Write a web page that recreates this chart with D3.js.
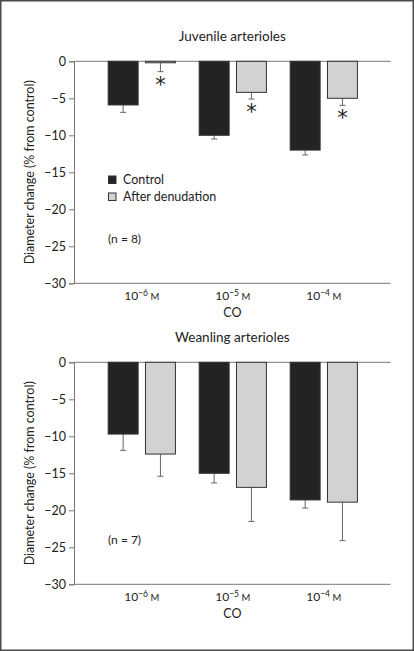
<!DOCTYPE html>
<html><head><meta charset="utf-8">
<script src="https://cdn.jsdelivr.net/npm/d3@7"></script>
<style>
html,body{margin:0;padding:0;background:#fff;}
svg{display:block;font-family:Lato,"Open Sans",sans-serif;}
</style></head>
<body>
<svg id="c" width="414" height="651"></svg>
<script>
const categories = ["1e-6", "1e-5", "1e-4"];
const exponents = ["−6", "−5", "−4"];
const seriesNames = ["Control", "After denudation"];
const yTicks = [0, -5, -10, -15, -20, -25, -30];

const juvenileControl = [-5.9, -10.0, -12.0];
const juvenileControlErr = [1.0, 0.5, 0.65];
const juvenileDenud = [-0.2, -4.2, -5.0];
const juvenileDenudErr = [1.2, 0.9, 0.95];
const juvenileSig = [true, true, true];

const weanlingControl = [-9.7, -15.0, -18.6];
const weanlingControlErr = [2.2, 1.3, 1.1];
const weanlingDenud = [-12.4, -16.9, -18.9];
const weanlingDenudErr = [3.0, 4.6, 5.2];
const weanlingSig = [false, false, false];

const colors = ["#232323", "#d2d2d2"];

const svg = d3.select("#c");
svg.append("rect").attr("x", 0.75).attr("y", 0.75).attr("width", 412.5).attr("height", 649.5)
  .attr("fill", "#fff").attr("stroke", "#4a4a4a").attr("stroke-width", 1.5);

function panel(opts) {
  const {top, title, ctrl, ctrlErr, den, denErr, sig, n, legend} = opts;
  const x0 = 74, x1 = 390.7;
  const y = d3.scaleLinear().domain([0, -30]).range([top, top + 222]);
  const x = d3.scaleBand().domain(categories).range([96.3, 369.3]).paddingInner(0.25).paddingOuter(0.125);
  const xs = d3.scaleBand().domain(seriesNames).range([0, x.bandwidth()]).paddingInner(0.17).paddingOuter(0);
  const g = svg.append("g");

  g.append("text").attr("x", (x0 + x1) / 2).attr("y", top - 20).attr("text-anchor", "middle")
    .attr("font-size", 13.5).attr("fill", "#222").text(title);

  // y axis
  const ya = g.append("g").attr("transform", `translate(${x0},0)`)
    .call(d3.axisLeft(y).tickValues(yTicks).tickSize(5).tickPadding(3)
      .tickFormat(d => d === 0 ? "0" : "−" + Math.abs(d)));
  ya.select(".domain").attr("stroke", "#777");
  ya.selectAll(".tick line").attr("stroke", "#777");
  ya.selectAll(".tick text").attr("font-size", 12.5).attr("fill", "#222").attr("font-family", "Lato,sans-serif");

  // zero line
  g.append("line").attr("x1", x0).attr("x2", x1).attr("y1", y(0)).attr("y2", y(0)).attr("stroke", "#777");
  // bottom line
  g.append("line").attr("x1", x0).attr("x2", x1).attr("y1", y(-30)).attr("y2", y(-30)).attr("stroke", "#777");

  const data = categories.map((c, i) => [
    {cat: c, s: seriesNames[0], v: ctrl[i], e: ctrlErr[i], sig: false, k: 0},
    {cat: c, s: seriesNames[1], v: den[i], e: denErr[i], sig: sig[i], k: 1}
  ]).flat();

  // error bars
  const eb = g.append("g").attr("stroke", "#666").attr("stroke-width", 1);
  data.forEach(d => {
    const cx = x(d.cat) + xs(d.s) + xs.bandwidth() / 2;
    eb.append("line").attr("x1", cx).attr("x2", cx).attr("y1", y(d.v)).attr("y2", y(d.v - d.e));
    eb.append("line").attr("x1", cx - 3).attr("x2", cx + 3).attr("y1", y(d.v - d.e)).attr("y2", y(d.v - d.e));
  });

  g.selectAll("rect.bar").data(data).enter().append("rect").attr("class", "bar")
    .attr("x", d => x(d.cat) + xs(d.s) + 0.5)
    .attr("y", d => y(0))
    .attr("width", xs.bandwidth() - 1)
    .attr("height", d => y(d.v) - y(0))
    .attr("fill", d => colors[d.k])
    .attr("stroke", "#333").attr("stroke-width", 1);

  // asterisks
  data.filter(d => d.sig).forEach(d => {
    const cx = x(d.cat) + xs(d.s) + xs.bandwidth() / 2;
    g.append("text").attr("x", cx).attr("y", y(d.v - d.e) + 20).attr("text-anchor", "middle")
      .attr("font-size", 21).attr("fill", "#222").attr("font-family", "DejaVu Sans,sans-serif").text("*");
  });

  // x labels
  categories.forEach((c, i) => {
    const cx = x(c) + x.bandwidth() / 2;
    const t = g.append("text").attr("x", cx).attr("y", y(-30) + 17).attr("text-anchor", "middle")
      .attr("font-size", 12).attr("fill", "#222");
    t.append("tspan").text("10");
    t.append("tspan").attr("dy", -4).attr("font-size", 8.5).text(exponents[i]);
    t.append("tspan").attr("dy", 4).attr("font-size", 9.5).text(" M");
  });
  g.append("text").attr("x", (x0 + x1) / 2).attr("y", y(-30) + 34).attr("text-anchor", "middle")
    .attr("font-size", 12.5).attr("fill", "#222").text("CO");

  // y title
  g.append("text").attr("transform", `translate(34,${(y(0) + y(-30)) / 2}) rotate(-90)`)
    .attr("text-anchor", "middle").attr("font-size", 12.5).attr("fill", "#222")
    .text("Diameter change (% from control)");

  g.append("text").attr("x", 108).attr("y", y(-25) - 3).attr("font-size", 12).attr("fill", "#222").text(`(n = ${n})`);

  if (legend) {
    seriesNames.forEach((s, i) => {
      const ly = y(-15.5) + i * 17;
      g.append("rect").attr("x", 108.5).attr("y", ly).attr("width", 7.5).attr("height", 7.5)
        .attr("fill", colors[i]).attr("stroke", "#333").attr("stroke-width", 1);
      g.append("text").attr("x", 123).attr("y", ly + 8).attr("font-size", 12.5).attr("fill", "#222").text(s);
    });
  }
}

panel({top: 61.3, title: "Juvenile arterioles", ctrl: juvenileControl, ctrlErr: juvenileControlErr,
  den: juvenileDenud, denErr: juvenileDenudErr, sig: juvenileSig, n: 8, legend: true});
panel({top: 362.3, title: "Weanling arterioles", ctrl: weanlingControl, ctrlErr: weanlingControlErr,
  den: weanlingDenud, denErr: weanlingDenudErr, sig: weanlingSig, n: 7, legend: false});
</script>
</body></html>
